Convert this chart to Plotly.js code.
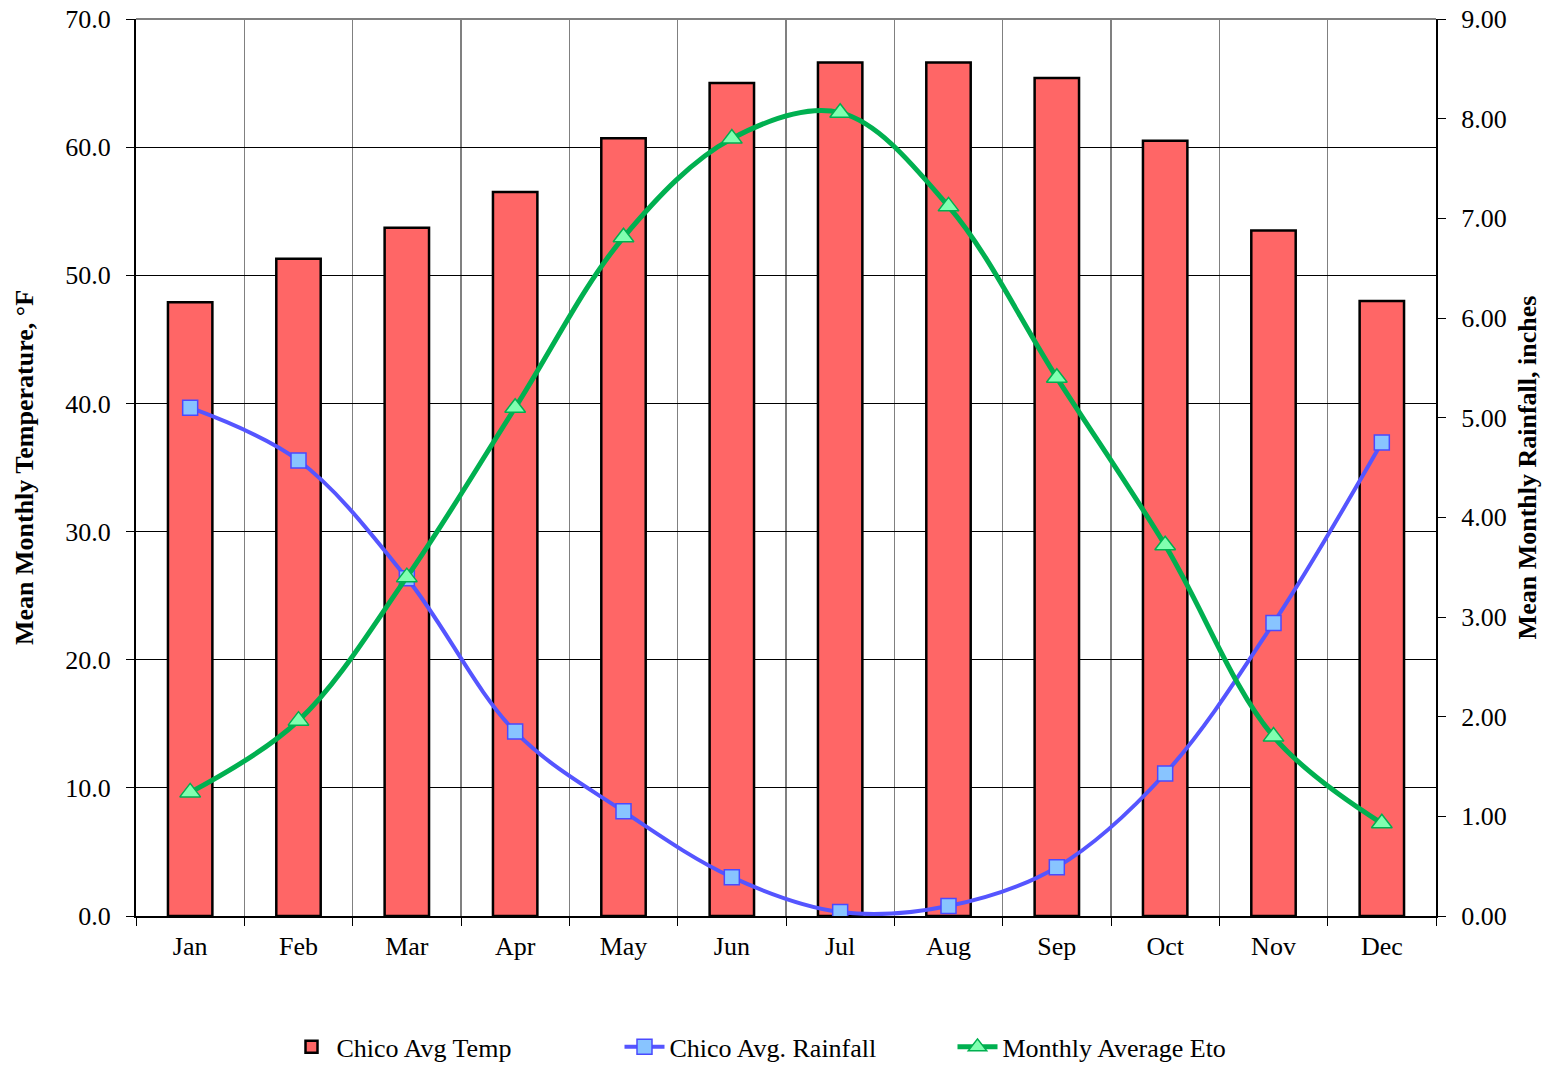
<!DOCTYPE html>
<html>
<head>
<meta charset="utf-8">
<script src="https://cdn.plot.ly/plotly-3.0.1.min.js"></script>
<style>html,body{margin:0;padding:0;background:#fff;}#chart{width:1562px;height:1065px;}</style>
</head>
<body>
<div id="chart"></div>
<script>
const months = ["Jan","Feb","Mar","Apr","May","Jun","Jul","Aug","Sep","Oct","Nov","Dec"];
const avgTemp = [47.9, 51.3, 53.7, 56.5, 60.7, 65.0, 66.6, 66.6, 65.4, 60.5, 53.5, 48.0];
const avgRainfall = [5.10, 4.57, 3.39, 1.85, 1.05, 0.39, 0.04, 0.10, 0.49, 1.43, 2.94, 4.75];
const avgEto = [1.24, 1.96, 3.40, 5.10, 6.81, 7.80, 8.06, 7.12, 5.40, 3.72, 1.80, 0.93];

const font = "Liberation Serif, Times New Roman, serif";
const fs = 26;

const traces = [
  {
    type: "bar", x: months, y: avgTemp, name: "Chico Avg Temp",
    marker: {color: "#ff6666", line: {color: "#000000", width: 2.5}},
    yaxis: "y"
  },
  {
    type: "scatter", mode: "lines+markers", x: months, y: avgRainfall, name: "Chico Avg. Rainfall",
    line: {color: "#5555ff", width: 4, shape: "spline", smoothing: 1},
    marker: {symbol: "square", size: 15, color: "#88c4ff", line: {color: "#4a4aff", width: 1.5}},
    yaxis: "y2"
  },
  {
    type: "scatter", mode: "lines+markers", x: months, y: avgEto, name: "Monthly Average Eto",
    line: {color: "#00b050", width: 5, shape: "spline", smoothing: 1},
    marker: {symbol: "triangle-up", size: 18, color: "#80ffb0", line: {color: "#00b050", width: 1.5}},
    yaxis: "y2"
  }
];

const layout = {
  width: 1562, height: 1065,
  margin: {l: 136, r: 126, t: 19, b: 149, autoexpand: false},
  paper_bgcolor: "#ffffff", plot_bgcolor: "#ffffff",
  font: {family: font, size: fs, color: "#000000"},
  showlegend: true,
  bargap: 0.59,
  legend: {orientation: "h", x: 0.5, xanchor: "center", y: -0.146, yanchor: "middle",
           font: {family: font, size: fs}, itemwidth: 40, tracegroupgap: 0,
           entrywidth: 278, entrywidthmode: "pixels"},
  xaxis: {
    type: "category", tickson: "boundaries",
    showgrid: true, gridcolor: "#808080", gridwidth: 1.5,
    showline: true, linecolor: "#000000", linewidth: 2,
    ticks: "outside", ticklen: 8, tickcolor: "#000000",
    ticklabelstandoff: 6,
    tickfont: {family: font, size: fs}, range: [-0.5, 11.5]
  },
  yaxis: {
    range: [0, 70], dtick: 10, tickformat: ".1f",
    showgrid: true, gridcolor: "#000000", gridwidth: 1,
    showline: true, linecolor: "#000000", linewidth: 2,
    ticks: "outside", ticklen: 8, tickcolor: "#000000",
    ticklabelstandoff: 10,
    zeroline: false,
    tickfont: {family: font, size: fs},
    title: {text: "Mean Monthly Temperature, °F", font: {family: font, size: 26, weight: "bold"}, standoff: 24}
  },
  yaxis2: {
    overlaying: "y", side: "right",
    range: [0, 9], dtick: 1, tickformat: ".2f",
    showgrid: false,
    showline: true, linecolor: "#000000", linewidth: 2,
    ticks: "outside", ticklen: 8, tickcolor: "#000000",
    ticklabelstandoff: 10,
    zeroline: false,
    tickfont: {family: font, size: fs},
    title: {text: "Mean Monthly Rainfall, inches", font: {family: font, size: 26, weight: "bold"}, standoff: 12}
  },
  shapes: [
    {type: "line", xref: "paper", yref: "paper", x0: 0, x1: 1, y0: 1, y1: 1,
     line: {color: "#808080", width: 2}}
  ]
};

Plotly.newPlot("chart", traces, layout, {displayModeBar: false, staticPlot: true});
</script>
</body>
</html>
